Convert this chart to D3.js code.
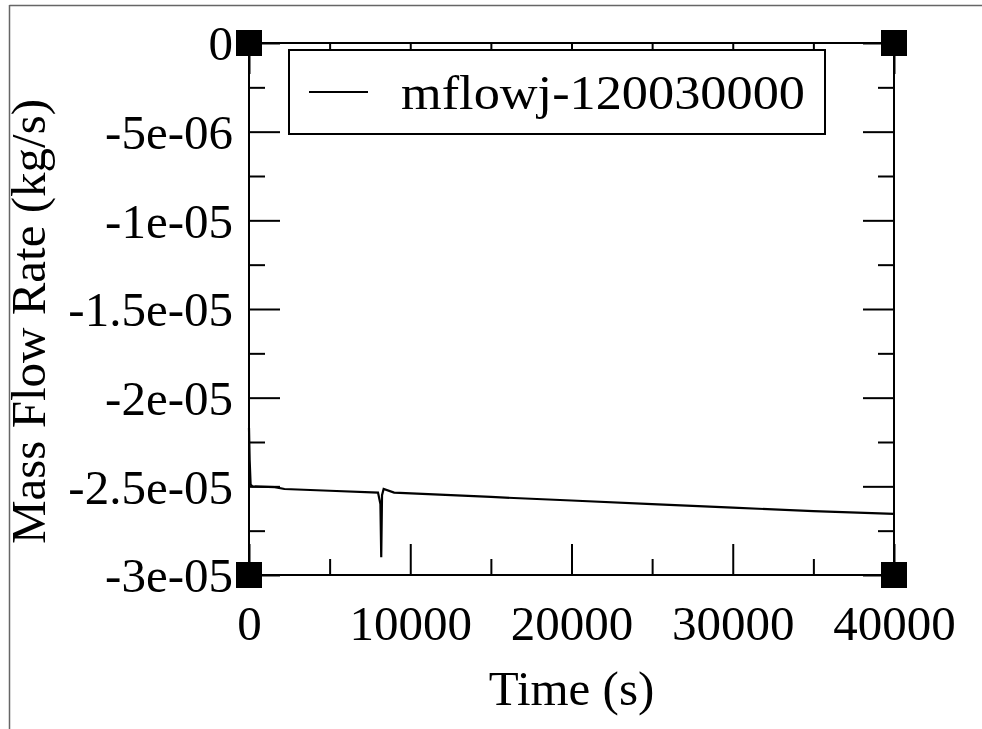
<!DOCTYPE html>
<html>
<head>
<meta charset="utf-8">
<script src="https://cdn.jsdelivr.net/npm/d3@7"></script>
<style>
  html, body { margin: 0; padding: 0; background: #fff; }
  svg { display: block; }
  text { font-family: "Liberation Serif", "Times New Roman", serif; fill: #000; }
</style>
</head>
<body>
<svg id="chart" width="982" height="729"></svg>
<script>
// ---- data ----
const seriesName = "mflowj-120030000";
const times = [0, 40, 100, 200, 1600, 2200, 5000, 8000, 8150, 8200, 8250, 8350, 9000, 15000, 20000, 25000, 30000, 35000, 40000];
const massFlow = [-2.17e-5, -2.35e-5, -2.49e-5, -2.50e-5, -2.505e-5, -2.515e-5, -2.525e-5, -2.535e-5, -2.60e-5, -2.90e-5, -2.55e-5, -2.515e-5, -2.535e-5, -2.56e-5, -2.58e-5, -2.60e-5, -2.62e-5, -2.64e-5, -2.655e-5];
const xTicks = [0, 10000, 20000, 30000, 40000];
const xTickLabels = ["0", "10000", "20000", "30000", "40000"];
const xMinorTicks = [5000, 15000, 25000, 35000];
const yTicks = [0, -5e-6, -1e-5, -1.5e-5, -2e-5, -2.5e-5, -3e-5];
const yTickLabels = ["0", "-5e-06", "-1e-05", "-1.5e-05", "-2e-05", "-2.5e-05", "-3e-05"];
const yMinorTicks = [-2.5e-6, -7.5e-6, -1.25e-5, -1.75e-5, -2.25e-5, -2.75e-5];
const xTitle = "Time (s)";
const yTitle = "Mass Flow Rate (kg/s)";

// ---- layout ----
const L = 249, R = 894, T = 43, B = 575;
const FS = 49;
const svg = d3.select("#chart");

// outer frame (partial border as in reference)
svg.append("line").attr("x1", 9.5).attr("x2", 982).attr("y1", 5.5).attr("y2", 5.5)
  .attr("stroke", "#666").attr("stroke-width", 1.5);
svg.append("line").attr("x1", 9.5).attr("x2", 9.5).attr("y1", 5).attr("y2", 729)
  .attr("stroke", "#666").attr("stroke-width", 1.5);

const x = d3.scaleLinear().domain([0, 40000]).range([L, R]);
const y = d3.scaleLinear().domain([-3e-5, 0]).range([B, T]);

const MAJ = 31, MIN = 16;
function axisGroup(axisFn, tx, ty) {
  const g = svg.append("g").attr("transform", `translate(${tx},${ty})`).call(axisFn);
  g.select(".domain").remove();
  g.selectAll("line").attr("stroke", "#000").attr("stroke-width", 2);
  g.selectAll("text").attr("font-family", null);
  return g;
}

// bottom axis (ticks inward)
const gb = axisGroup(d3.axisBottom(x).tickValues(xTicks).tickSize(-MAJ)
  .tickFormat((d, i) => xTickLabels[i]).tickPadding(0), 0, B);
gb.selectAll("text").attr("font-size", FS).attr("y", 65).attr("dy", null);
axisGroup(d3.axisBottom(x).tickValues(xMinorTicks).tickSize(-MIN).tickFormat(""), 0, B);
// top axis
axisGroup(d3.axisTop(x).tickValues(xTicks).tickSize(-MAJ).tickFormat(""), 0, T);
axisGroup(d3.axisTop(x).tickValues(xMinorTicks).tickSize(-MIN).tickFormat(""), 0, T);
// left axis
const gl = axisGroup(d3.axisLeft(y).tickValues(yTicks).tickSize(-MAJ)
  .tickFormat((d, i) => yTickLabels[i]).tickPadding(0), L, 0);
gl.selectAll("text").attr("font-size", FS).attr("x", -16).attr("dy", "0.34em");
axisGroup(d3.axisLeft(y).tickValues(yMinorTicks).tickSize(-MIN).tickFormat(""), L, 0);
// right axis
axisGroup(d3.axisRight(y).tickValues(yTicks).tickSize(-MAJ).tickFormat(""), R, 0);
axisGroup(d3.axisRight(y).tickValues(yMinorTicks).tickSize(-MIN).tickFormat(""), R, 0);

// frame
svg.append("rect").attr("x", L).attr("y", T).attr("width", R - L).attr("height", B - T)
  .attr("fill", "none").attr("stroke", "#000").attr("stroke-width", 2);

// data line
const line = d3.line().x((d, i) => x(times[i])).y(d => y(d));
svg.append("path").datum(massFlow).attr("d", line)
  .attr("fill", "none").attr("stroke", "#000").attr("stroke-width", 2.2)
  .attr("stroke-linejoin", "miter");

// corner squares
const corners = [[L, T], [R, T], [L, B], [R, B]];
svg.selectAll("rect.corner").data(corners).enter().append("rect")
  .attr("class", "corner")
  .attr("x", d => d[0] - 13).attr("y", d => d[1] - 13)
  .attr("width", 26).attr("height", 26).attr("fill", "#000");

// legend
const lg = svg.append("g");
lg.append("rect").attr("x", 289).attr("y", 50).attr("width", 536).attr("height", 84)
  .attr("fill", "#fff").attr("stroke", "#000").attr("stroke-width", 2);
lg.append("line").attr("x1", 309).attr("x2", 368).attr("y1", 92).attr("y2", 92)
  .attr("stroke", "#000").attr("stroke-width", 2.2);
lg.append("text").attr("x", 401).attr("y", 108.5)
  .attr("font-size", FS).attr("textLength", 404).attr("lengthAdjust", "spacingAndGlyphs")
  .text(seriesName);

// axis titles
svg.append("text").attr("x", 571.5).attr("y", 705).attr("text-anchor", "middle")
  .attr("font-size", FS).text(xTitle);
svg.append("text").attr("transform", `translate(45,321.5) rotate(-90)`)
  .attr("text-anchor", "middle").attr("font-size", FS).text(yTitle);
</script>
</body>
</html>
